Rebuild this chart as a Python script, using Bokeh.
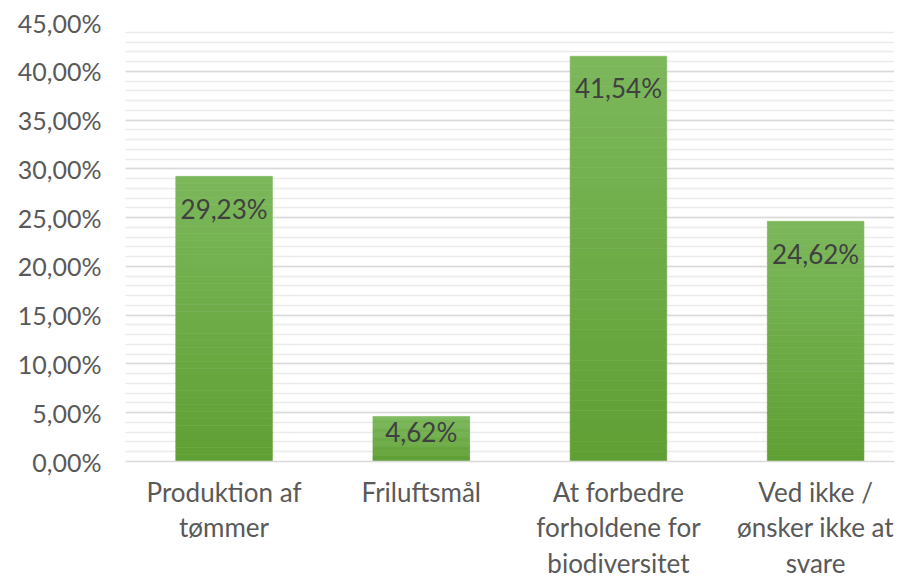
from bokeh.plotting import figure
from bokeh.models import ColumnDataSource, SingleIntervalTicker, FixedTicker, CustomJSTickFormatter, Range1d
from bokeh.core.properties import value
from bokeh.embed import file_html
from bokeh.resources import INLINE
import numpy as np

categories = ["Produktion af\ntømmer", "Friluftsmål", "At forbedre\nforholdene for\nbiodiversitet", "Ved ikke /\nønsker ikke at\nsvare"]
values = [29.23, 4.62, 41.54, 24.62]
labels = ["29,23%", "4,62%", "41,54%", "24,62%"]

FONT = "Lato"
x = np.arange(len(categories))
vals = np.array(values)
label_y = np.maximum(vals - 3.3, vals * 0.65)

p = figure(width=894, height=582, output_backend="svg", toolbar_location=None,
           x_range=Range1d(-0.5, 3.4), y_range=Range1d(0, 45),
           min_border_left=125, min_border_right=0, min_border_top=22, min_border_bottom=119)
p.outline_line_color = None
p.background_fill_color = "white"
p.border_fill_color = "white"

# vertical gradient built from stacked bands of each bar (light top, darker bottom)
top_rgb = np.array([0x7c, 0xb8, 0x5c])
bot_rgb = np.array([0x5f, 0x9f, 0x33])
N = 40
bx, bb, bt, bc = [], [], [], []
for xi, v in zip(x, vals):
    for i in range(N):
        f = (i + 0.5) / N
        c = bot_rgb + (top_rgb - bot_rgb) * f
        bx.append(xi)
        bb.append(v * i / N)
        bt.append(v * (i + 1) / N)
        bc.append("#%02x%02x%02x" % tuple(int(round(t)) for t in c))
bands = ColumnDataSource(dict(x=bx, bottom=bb, top=bt, color=bc))
p.vbar(x="x", bottom="bottom", top="top", width=0.49, source=bands,
       fill_color="color", line_color="color", line_width=0.6)

src = ColumnDataSource(dict(x=x, top=vals, label=labels, ly=label_y))
p.text(x="x", y="ly", text="label", source=src, text_align="center", text_baseline="middle",
       text_font=value(FONT), text_font_size="26px", text_color="#404040")

p.xgrid.grid_line_color = None
p.yaxis.ticker = SingleIntervalTicker(interval=5, num_minor_ticks=5)
p.ygrid.grid_line_color = "#d9d9d9"
p.ygrid.grid_line_width = 1.5
p.ygrid.minor_grid_line_color = "#ebebeb"
p.ygrid.minor_grid_line_width = 1.5
p.yaxis.formatter = CustomJSTickFormatter(code="return tick.toFixed(2).replace('.', ',') + '%';")
p.yaxis.axis_line_color = None
p.yaxis.major_tick_line_color = None
p.yaxis.minor_tick_line_color = None
p.yaxis.major_label_text_font = FONT
p.yaxis.major_label_text_font_size = "25px"
p.yaxis.major_label_text_color = "#595959"
p.yaxis.major_label_standoff = 18

p.xaxis.ticker = FixedTicker(ticks=list(x))
p.xaxis.major_label_overrides = {int(i): c for i, c in zip(x, categories)}
p.xaxis.axis_line_color = "#d9d9d9"
p.xaxis.axis_line_width = 1.5
p.xaxis.major_tick_line_color = None
p.xaxis.minor_tick_line_color = None
p.xaxis.major_label_text_font = FONT
p.xaxis.major_label_text_font_size = "26px"
p.xaxis.major_label_text_color = "#595959"
p.xaxis.major_label_text_line_height = 1.12
p.xaxis.major_label_standoff = 8

open("out.html", "w").write(file_html(p, INLINE))
